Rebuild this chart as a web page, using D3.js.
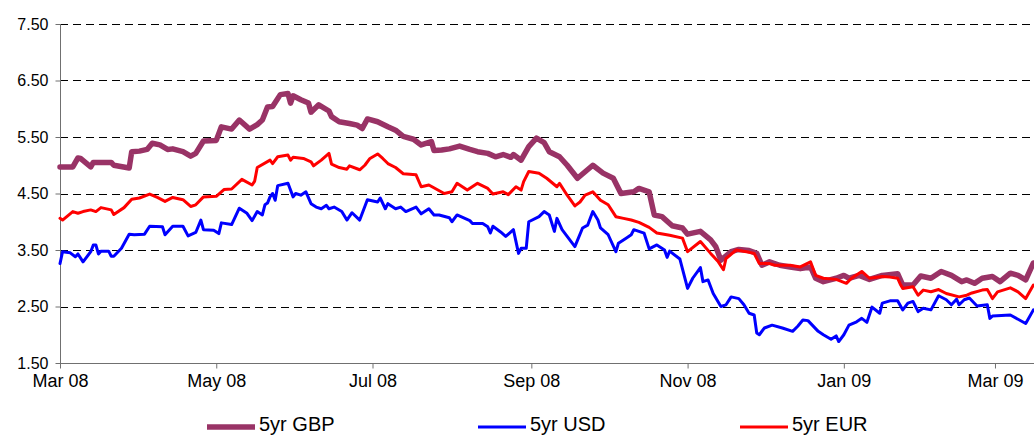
<!DOCTYPE html>
<html>
<head>
<meta charset="utf-8">
<script src="https://cdn.jsdelivr.net/npm/d3@7"></script>
<style>
  body { margin: 0; background: #fff; }
  svg { display: block; font-family: "Liberation Sans", Arial, sans-serif; }
</style>
</head>
<body>
<div id="chart"></div>
<script>
// 5 year swap rates
const gbp = [
  ["2008-03-03",4.97],["2008-03-08",4.97],["2008-03-10",5.13],["2008-03-11",5.12],["2008-03-15",4.97],
  ["2008-03-16",5.05],["2008-03-23",5.05],["2008-03-24",5.00],["2008-03-30",4.95],["2008-03-31",5.24],
  ["2008-04-03",5.25],["2008-04-06",5.28],["2008-04-08",5.39],["2008-04-11",5.36],["2008-04-14",5.28],
  ["2008-04-16",5.29],["2008-04-20",5.24],["2008-04-23",5.16],["2008-04-25",5.21],["2008-04-28",5.43],
  ["2008-05-03",5.44],["2008-05-05",5.68],["2008-05-09",5.64],["2008-05-12",5.80],["2008-05-16",5.64],
  ["2008-05-19",5.72],["2008-05-21",5.80],["2008-05-23",6.03],["2008-05-25",6.04],["2008-05-28",6.25],
  ["2008-05-31",6.27],["2008-06-01",6.10],["2008-06-02",6.23],["2008-06-05",6.16],["2008-06-08",6.10],
  ["2008-06-09",5.94],["2008-06-12",6.07],["2008-06-16",5.96],["2008-06-17",5.86],["2008-06-20",5.77],
  ["2008-06-24",5.74],["2008-06-27",5.71],["2008-06-29",5.65],["2008-07-01",5.82],["2008-07-05",5.77],
  ["2008-07-09",5.68],["2008-07-12",5.62],["2008-07-15",5.51],["2008-07-19",5.46],["2008-07-22",5.36],
  ["2008-07-26",5.42],["2008-07-27",5.26],["2008-07-30",5.27],["2008-08-02",5.29],["2008-08-06",5.34],
  ["2008-08-10",5.28],["2008-08-13",5.24],["2008-08-17",5.21],["2008-08-20",5.15],["2008-08-23",5.19],
  ["2008-08-26",5.14],["2008-08-27",5.19],["2008-08-30",5.09],["2008-09-02",5.33],["2008-09-05",5.48],
  ["2008-09-08",5.40],["2008-09-10",5.24],["2008-09-14",5.15],["2008-09-17",5.00],["2008-09-21",4.77],
  ["2008-09-27",5.00],["2008-10-01",4.86],["2008-10-05",4.77],["2008-10-08",4.50],["2008-10-13",4.53],
  ["2008-10-15",4.59],["2008-10-19",4.53],["2008-10-21",4.12],["2008-10-24",4.09],["2008-10-28",3.93],
  ["2008-11-01",3.89],["2008-11-03",3.78],["2008-11-08",3.83],["2008-11-12",3.68],["2008-11-14",3.56],
  ["2008-11-16",3.32],["2008-11-20",3.47],["2008-11-23",3.51],["2008-11-27",3.49],["2008-11-30",3.44],
  ["2008-12-02",3.23],["2008-12-05",3.29],["2008-12-09",3.23],["2008-12-13",3.20],["2008-12-17",3.17],
  ["2008-12-21",3.20],["2008-12-23",3.00],["2008-12-26",2.94],["2008-12-31",3.00],["2009-01-03",3.05],
  ["2009-01-05",3.00],["2009-01-09",3.05],["2009-01-13",2.98],["2009-01-18",3.05],["2009-01-24",3.08],
  ["2009-01-26",2.88],["2009-01-30",2.88],["2009-02-02",3.04],["2009-02-06",3.00],["2009-02-10",3.12],
  ["2009-02-14",3.05],["2009-02-18",2.94],["2009-02-20",2.97],["2009-02-23",2.91],["2009-02-26",3.00],
  ["2009-03-02",3.03],["2009-03-05",2.94],["2009-03-09",3.09],["2009-03-12",3.05],["2009-03-15",2.97],
  ["2009-03-18",3.27]
];

const usd = [
  ["2008-03-03",3.26],["2008-03-04",3.47],["2008-03-07",3.45],["2008-03-09",3.38],["2008-03-10",3.43],
  ["2008-03-12",3.29],["2008-03-15",3.47],["2008-03-16",3.59],["2008-03-17",3.59],["2008-03-18",3.43],
  ["2008-03-19",3.48],["2008-03-22",3.48],["2008-03-23",3.39],["2008-03-24",3.39],["2008-03-27",3.53],
  ["2008-03-30",3.78],["2008-04-01",3.77],["2008-04-05",3.78],["2008-04-07",3.92],["2008-04-12",3.91],
  ["2008-04-13",3.77],["2008-04-16",3.92],["2008-04-20",3.92],["2008-04-22",3.75],["2008-04-25",3.81],
  ["2008-04-27",4.03],["2008-04-28",3.86],["2008-05-02",3.85],["2008-05-04",3.79],["2008-05-05",3.98],
  ["2008-05-09",3.95],["2008-05-12",4.24],["2008-05-15",4.15],["2008-05-17",4.02],["2008-05-19",4.18],
  ["2008-05-21",4.12],["2008-05-22",4.30],["2008-05-23",4.33],["2008-05-24",4.44],["2008-05-25",4.50],
  ["2008-05-26",4.38],["2008-05-27",4.64],["2008-05-31",4.68],["2008-06-02",4.44],["2008-06-03",4.50],
  ["2008-06-05",4.47],["2008-06-07",4.53],["2008-06-09",4.32],["2008-06-11",4.26],["2008-06-13",4.23],
  ["2008-06-15",4.29],["2008-06-16",4.23],["2008-06-18",4.26],["2008-06-21",4.18],["2008-06-23",4.03],
  ["2008-06-25",4.16],["2008-06-28",4.03],["2008-07-01",4.39],["2008-07-05",4.35],["2008-07-06",4.42],
  ["2008-07-08",4.23],["2008-07-09",4.32],["2008-07-12",4.23],["2008-07-14",4.26],["2008-07-16",4.18],
  ["2008-07-20",4.26],["2008-07-22",4.14],["2008-07-25",4.23],["2008-07-27",4.12],["2008-07-29",4.12],
  ["2008-08-02",4.07],["2008-08-03",4.00],["2008-08-05",4.12],["2008-08-10",4.02],["2008-08-11",3.97],
  ["2008-08-15",3.97],["2008-08-17",3.91],["2008-08-18",3.80],["2008-08-19",3.92],["2008-08-22",3.82],
  ["2008-08-24",3.74],["2008-08-27",3.86],["2008-08-29",3.44],["2008-08-30",3.53],["2008-09-01",3.53],
  ["2008-09-02",4.00],["2008-09-06",4.09],["2008-09-08",4.18],["2008-09-10",4.12],["2008-09-12",3.83],
  ["2008-09-13",4.06],["2008-09-15",3.86],["2008-09-20",3.56],["2008-09-23",3.89],["2008-09-25",3.94],
  ["2008-09-27",4.18],["2008-09-29",4.03],["2008-09-30",3.89],["2008-10-03",3.77],["2008-10-06",3.47],
  ["2008-10-07",3.62],["2008-10-10",3.71],["2008-10-12",3.77],["2008-10-13",3.86],["2008-10-17",3.80],
  ["2008-10-19",3.52],["2008-10-22",3.59],["2008-10-25",3.50],["2008-10-26",3.37],["2008-10-27",3.48],
  ["2008-10-31",3.34],["2008-11-03",2.82],["2008-11-05",3.00],["2008-11-08",3.19],["2008-11-09",2.94],
  ["2008-11-11",2.97],["2008-11-13",2.73],["2008-11-16",2.50],["2008-11-18",2.53],["2008-11-20",2.67],
  ["2008-11-23",2.64],["2008-11-25",2.53],["2008-11-27",2.38],["2008-11-29",2.35],["2008-11-30",2.03],
  ["2008-12-01",2.00],["2008-12-03",2.12],["2008-12-06",2.17],["2008-12-10",2.12],["2008-12-14",2.06],
  ["2008-12-16",2.15],["2008-12-18",2.26],["2008-12-20",2.25],["2008-12-24",2.06],["2008-12-26",2.00],
  ["2008-12-29",1.92],["2008-12-31",1.98],["2009-01-01",1.88],["2009-01-03",2.00],["2009-01-05",2.17],
  ["2009-01-08",2.23],["2009-01-10",2.29],["2009-01-12",2.22],["2009-01-14",2.49],["2009-01-17",2.38],
  ["2009-01-18",2.56],["2009-01-21",2.60],["2009-01-24",2.60],["2009-01-26",2.44],["2009-01-28",2.56],
  ["2009-01-30",2.59],["2009-02-01",2.41],["2009-02-03",2.47],["2009-02-06",2.44],["2009-02-09",2.69],
  ["2009-02-12",2.62],["2009-02-14",2.53],["2009-02-16",2.63],["2009-02-17",2.53],["2009-02-19",2.62],
  ["2009-02-21",2.65],["2009-02-24",2.51],["2009-02-28",2.53],["2009-03-01",2.29],["2009-03-02",2.33],
  ["2009-03-09",2.35],["2009-03-15",2.20],["2009-03-18",2.44]
];

const eur = [
  ["2008-03-03",4.06],["2008-03-04",4.03],["2008-03-08",4.18],["2008-03-10",4.15],["2008-03-12",4.18],
  ["2008-03-15",4.21],["2008-03-17",4.18],["2008-03-19",4.25],["2008-03-23",4.21],["2008-03-24",4.13],
  ["2008-03-28",4.25],["2008-03-31",4.40],["2008-04-03",4.42],["2008-04-07",4.49],["2008-04-10",4.43],
  ["2008-04-13",4.36],["2008-04-16",4.43],["2008-04-20",4.39],["2008-04-23",4.27],["2008-04-25",4.30],
  ["2008-04-28",4.44],["2008-05-03",4.45],["2008-05-06",4.57],["2008-05-09",4.58],["2008-05-13",4.75],
  ["2008-05-17",4.65],["2008-05-18",4.72],["2008-05-19",4.96],["2008-05-24",5.09],["2008-05-25",5.03],
  ["2008-05-27",5.15],["2008-05-31",5.18],["2008-06-01",5.09],["2008-06-02",5.14],["2008-06-06",5.12],
  ["2008-06-09",5.06],["2008-06-10",4.99],["2008-06-13",5.09],["2008-06-16",5.21],["2008-06-17",5.02],
  ["2008-06-20",4.96],["2008-06-23",4.93],["2008-06-24",4.99],["2008-06-28",4.92],["2008-06-30",5.00],
  ["2008-07-02",5.12],["2008-07-05",5.20],["2008-07-07",5.12],["2008-07-09",5.03],["2008-07-12",4.96],
  ["2008-07-15",4.85],["2008-07-20",4.83],["2008-07-22",4.62],["2008-07-25",4.65],["2008-07-31",4.50],
  ["2008-08-03",4.53],["2008-08-05",4.68],["2008-08-09",4.56],["2008-08-13",4.68],["2008-08-17",4.59],
  ["2008-08-19",4.49],["2008-08-23",4.53],["2008-08-25",4.48],["2008-08-28",4.62],["2008-08-30",4.56],
  ["2008-08-31",4.71],["2008-09-02",4.89],["2008-09-06",4.86],["2008-09-09",4.77],["2008-09-13",4.62],
  ["2008-09-14",4.68],["2008-09-17",4.47],["2008-09-20",4.28],["2008-09-22",4.35],["2008-09-24",4.47],
  ["2008-09-27",4.53],["2008-09-30",4.38],["2008-10-03",4.30],["2008-10-06",4.09],["2008-10-09",4.06],
  ["2008-10-12",4.03],["2008-10-15",3.99],["2008-10-19",3.90],["2008-10-22",3.80],["2008-10-27",3.76],
  ["2008-11-01",3.71],["2008-11-03",3.47],["2008-11-08",3.65],["2008-11-12",3.44],["2008-11-15",3.29],
  ["2008-11-17",3.15],["2008-11-18",3.35],["2008-11-22",3.50],["2008-11-26",3.47],["2008-11-29",3.44],
  ["2008-12-01",3.26],["2008-12-05",3.26],["2008-12-07",3.23],["2008-12-13",3.23],["2008-12-17",3.20],
  ["2008-12-21",3.29],["2008-12-23",3.05],["2008-12-26",3.00],["2008-12-31",2.98],["2009-01-04",2.91],
  ["2009-01-06",3.00],["2009-01-10",3.12],["2009-01-13",3.00],["2009-01-18",3.03],["2009-01-21",3.02],
  ["2009-01-24",3.00],["2009-01-25",2.90],["2009-01-26",2.82],["2009-01-30",2.85],["2009-02-01",2.70],
  ["2009-02-03",2.79],["2009-02-06",2.76],["2009-02-09",2.80],["2009-02-12",2.73],["2009-02-17",2.67],
  ["2009-02-20",2.70],["2009-02-22",2.74],["2009-02-26",2.79],["2009-02-28",2.80],["2009-03-02",2.64],
  ["2009-03-04",2.76],["2009-03-09",2.83],["2009-03-12",2.76],["2009-03-15",2.64],["2009-03-18",2.88]
];

const seriesNames = ["5yr GBP", "5yr USD", "5yr EUR"];
const seriesColors = ["#993366", "#0000ff", "#ff0000"];
const seriesWidths = [5.5, 3, 3];
const yTicks = [1.5, 2.5, 3.5, 4.5, 5.5, 6.5, 7.5];
const firstDay = "2008-03-03";
const lastDay = "2009-03-18";

// Configuration du graphique
const width = 1034;
const height = 436;
const plot = { left: 60, right: 1033.4, top: 24, bottom: 363 };

const parseDate = d3.timeParse("%Y-%m-%d");

const svg = d3.select("#chart")
    .append("svg")
    .attr("width", width)
    .attr("height", height);

svg.append("rect").attr("width", width).attr("height", height).attr("fill", "#fff");

const xScale = d3.scaleTime()
    .domain([parseDate(firstDay), parseDate(lastDay)])
    .range([plot.left, plot.right]);

const yScale = d3.scaleLinear()
    .domain([1.5, 7.5])
    .range([plot.bottom, plot.top]);

// gridlines
svg.append("g")
    .selectAll("line")
    .data(yTicks.filter(v => v > 1.5))
    .enter()
    .append("line")
    .attr("x1", plot.left)
    .attr("x2", width)
    .attr("y1", d => Math.round(yScale(d)) + 0.5)
    .attr("y2", d => Math.round(yScale(d)) + 0.5)
    .attr("stroke", "#000")
    .attr("stroke-width", 1)
    .attr("stroke-dasharray", "8,5");

// axes
const yAxis = d3.axisLeft(yScale)
    .tickValues(yTicks)
    .tickFormat(d3.format(".2f"))
    .tickSize(5)
    .tickPadding(7)
    .tickSizeOuter(0);

const xTicks = d3.range(7).map(i => d3.timeMonth.offset(parseDate(firstDay), 2 * i));
const xAxis = d3.axisBottom(xScale)
    .tickValues(xTicks)
    .tickFormat(d3.timeFormat("%b %y"))
    .tickSize(5)
    .tickPadding(6)
    .tickSizeOuter(0);

const gy = svg.append("g")
    .attr("transform", `translate(${plot.left + 0.5},0)`)
    .call(yAxis);
gy.select(".domain").attr("d", `M0,${plot.top}V${plot.bottom}`);

const gx = svg.append("g")
    .attr("transform", `translate(0,${plot.bottom + 0.5})`)
    .call(xAxis);
gx.select(".domain").attr("d", `M${plot.left},0H${width}`);

[gx, gy].forEach(g => {
    g.selectAll(".domain, .tick line").attr("stroke", "#707070").attr("stroke-width", 1);
    g.selectAll("text").attr("fill", "#000").attr("font-family", "'Liberation Sans', Arial, sans-serif");
});
gy.selectAll("text").attr("font-size", 16);
gx.selectAll("text").attr("font-size", 18);

// lines
const line = d3.line()
    .x(d => xScale(parseDate(d[0])))
    .y(d => yScale(d[1]));

[gbp, usd, eur].forEach((data, i) => {
    svg.append("path")
        .datum(data)
        .attr("fill", "none")
        .attr("stroke", seriesColors[i])
        .attr("stroke-width", seriesWidths[i])
        .attr("stroke-linejoin", "round")
        .attr("stroke-linecap", "round")
        .attr("d", line);
});

// legend
const legendX = [207, 478, 740];
const legend = svg.append("g").attr("transform", "translate(0,427)");
seriesNames.forEach((name, i) => {
    legend.append("line")
        .attr("x1", legendX[i])
        .attr("x2", legendX[i] + 48)
        .attr("stroke", seriesColors[i])
        .attr("stroke-width", seriesWidths[i]);
    legend.append("text")
        .attr("x", legendX[i] + 52)
        .attr("y", 4)
        .attr("font-size", 20)
        .attr("fill", "#000")
        .text(name);
});
</script>
</body>
</html>
